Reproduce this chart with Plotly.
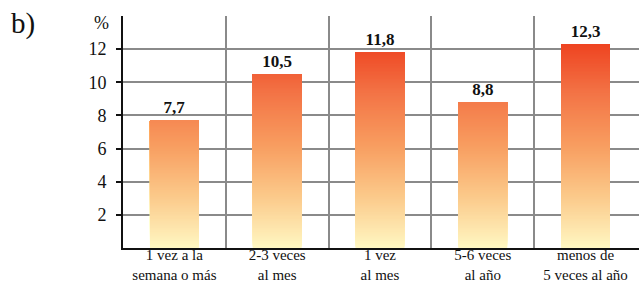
import numpy as np
import plotly.graph_objects as go
from plotly.colors import sample_colorscale

categories = ["1 vez a la<br>semana o más", "2-3 veces<br>al mes", "1 vez<br>al mes",
              "5-6 veces<br>al año", "menos de<br>5 veces al año"]
values = [7.7, 10.5, 11.8, 8.8, 12.3]
value_labels = ["7,7", "10,5", "11,8", "8,8", "12,3"]
y_ticks = [2, 4, 6, 8, 10, 12]

YMAX = 14
FONT = "Liberation Serif"
BAR_W = 0.475

grad = [[0.0, "#FFF7C2"], [0.25, "#FBC98A"], [0.5, "#F89D60"],
        [0.75, "#F37446"], [1.0, "#EE4220"]]
GTOP = 12.4
step = 0.05

fig = go.Figure()
xs, bases, ys, cols = [], [], [], []
for i, v in enumerate(values):
    b = 0.0
    while b < v - 1e-9:
        xs.append(i)
        bases.append(b)
        ys.append(v - b)
        cols.append(sample_colorscale(grad, [min(b / GTOP, 1.0)])[0])
        b += step
fig.add_trace(go.Bar(x=xs, y=ys, base=bases, width=BAR_W,
                     marker=dict(color=cols, line=dict(width=0)),
                     hoverinfo="skip", showlegend=False))
fig.add_trace(go.Bar(x=list(range(len(values))), y=values, width=BAR_W,
                     marker=dict(color="rgba(0,0,0,0)", line=dict(width=0)),
                     text=value_labels, textposition="outside", cliponaxis=False,
                     textfont=dict(family=FONT, size=17, color="#111"),
                     texttemplate="<b>%{text}</b>", showlegend=False))

L, R, T, B = 123, 0, 16, 38
fig.update_layout(
    width=639, height=286, barmode="overlay",
    margin=dict(l=L, r=R, t=T, b=B, autoexpand=False),
    paper_bgcolor="white", plot_bgcolor="white",
    font=dict(family=FONT, color="#111"),
    xaxis=dict(range=[-0.5, 4.52], tickmode="array", automargin=False,
               tickvals=list(range(len(categories))), ticktext=categories,
               showgrid=False, showline=True, linecolor="#111", linewidth=2,
               ticks="", tickfont=dict(family=FONT, size=15, color="#111"),
               ticklabelstandoff=-8,
               minor=dict(tickvals=[0.5, 1.5, 2.5, 3.5], showgrid=True,
                          gridcolor="#8a8a8a", gridwidth=1.5, ticks=""),
               zeroline=False, fixedrange=True),
    yaxis=dict(range=[0, YMAX], tickmode="array", tickvals=y_ticks, automargin=False,
               showgrid=True, gridcolor="#8a8a8a", gridwidth=1.5,
               showline=True, linecolor="#111", linewidth=2,
               ticks="outside", ticklen=5, tickwidth=2, tickcolor="#111",
               tickfont=dict(family=FONT, size=18, color="#111"),
               ticklabelstandoff=6,
               minor=dict(tickvals=[14], showgrid=True, gridcolor="#8a8a8a",
                          gridwidth=1.5, ticks=""),
               zeroline=False, fixedrange=True),
)
pw = 639 - L - R
ph = 286 - T - B
def px2paper(px, py):
    return (px - L) / pw, 1 - (py - T) / ph

bx, by = px2paper(9, 24)
fig.add_annotation(text="b)", x=bx, y=by, xref="paper", yref="paper", showarrow=False,
                   font=dict(family=FONT, size=29, color="#111"), xanchor="left",
                   yanchor="middle")
px_, py_ = px2paper(101, 23)
fig.add_annotation(text="%", x=px_, y=py_, xref="paper", yref="paper", showarrow=False,
                   font=dict(family=FONT, size=18, color="#111"), xanchor="center",
                   yanchor="middle")

fig.write_html("out.html", config={"displayModeBar": False},
               post_script="document.body.style.margin='0';document.body.style.overflow='hidden';")
